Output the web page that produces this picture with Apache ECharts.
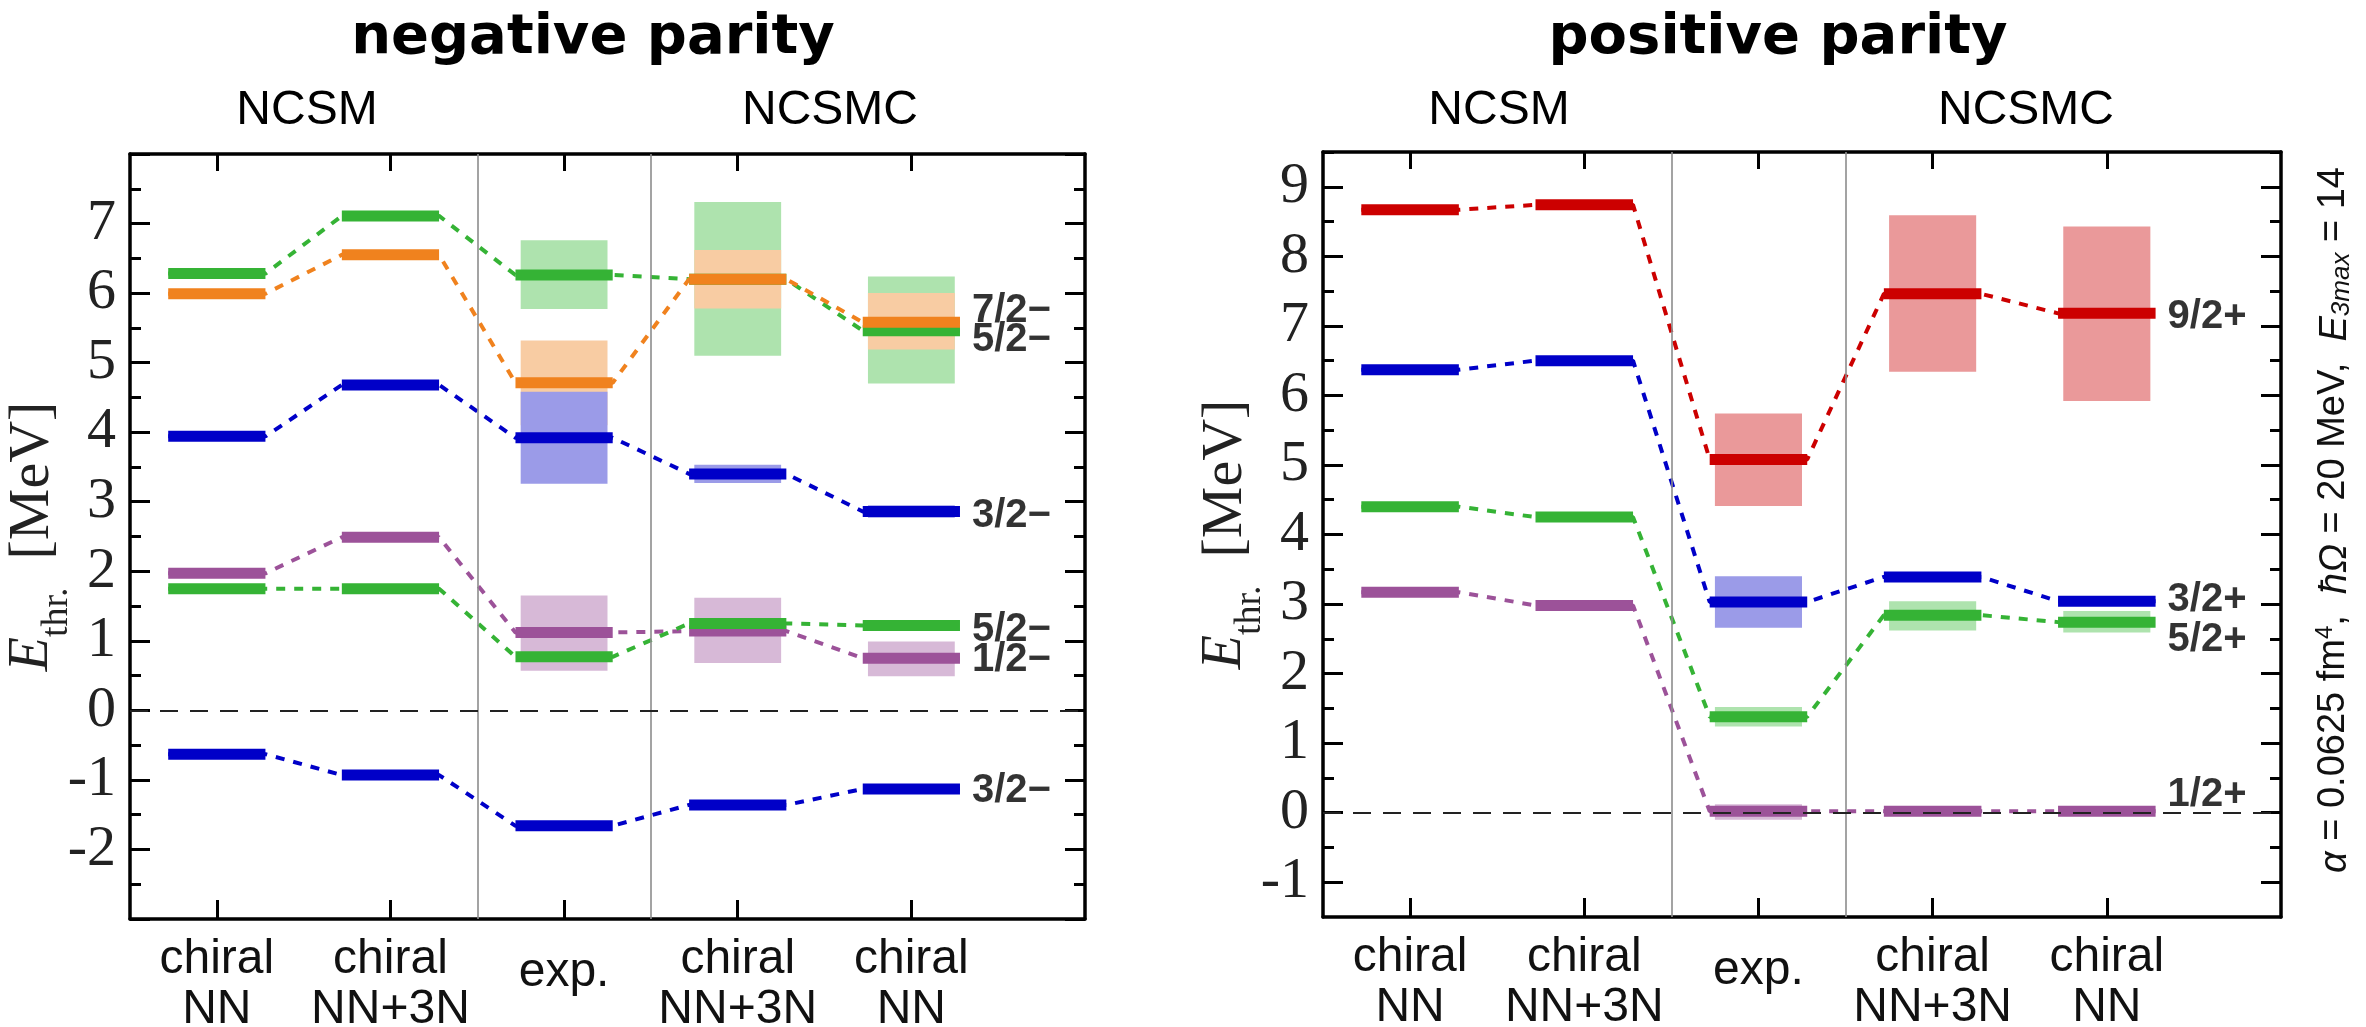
<!DOCTYPE html>
<html>
<head>
<meta charset="utf-8">
<title>threshold energies</title>
<script src="https://cdn.jsdelivr.net/npm/echarts@6/dist/echarts.min.js"></script>
<style>
html, body { margin: 0; padding: 0; background: #fff; }
#chart { width: 2366px; height: 1027px; }
</style>
</head>
<body>
<div id="chart"></div>
<script>
// columns on the x axis
var columns = ['chiral\nNN', 'chiral\nNN+3N', 'exp.', 'chiral\nNN+3N', 'chiral\nNN'];
var columnPos = [1, 2, 3, 4, 5];
var sectionBreaks = [2.5, 3.5];

// negative parity levels (MeV) and uncertainty boxes [low, high]
var neg52a = [6.28, 7.11, 6.26, 6.20, 5.46];
var neg52aBox = [null, null, [5.77, 6.76], [5.10, 7.31], [4.70, 6.24]];
var neg72 = [5.99, 6.55, 4.71, 6.20, 5.58];
var neg72Box = [null, null, [4.10, 5.32], [5.78, 6.62], [5.19, 6.00]];
var neg32a = [3.94, 4.68, 3.92, 3.40, 2.86];
var neg32aBox = [null, null, [3.26, 4.58], [3.27, 3.53], [2.77, 2.95]];
var neg12 = [1.97, 2.49, 1.12, 1.14, 0.75];
var neg12Box = [null, null, [0.57, 1.65], [0.68, 1.62], [0.49, 0.99]];
var neg52b = [1.75, 1.75, 0.77, 1.25, 1.22];
var neg32b = [-0.63, -0.93, -1.66, -1.36, -1.13];
var negLabels = ['7/2−', '5/2−', '3/2−', '5/2−', '1/2−', '3/2−'];
var negLabelY = [5.74, 5.32, 2.79, 1.16, 0.73, -1.16];
var negTicks = [-3, -2, -1, 0, 1, 2, 3, 4, 5, 6, 7, 8];
var negTickLabels = [-2, -1, 0, 1, 2, 3, 4, 5, 6, 7];
var negMinor = [-2.5, -1.5, -0.5, 0.5, 1.5, 2.5, 3.5, 4.5, 5.5, 6.5, 7.5];

// positive parity levels
var pos92 = [8.67, 8.74, 5.08, 7.46, 7.18];
var pos92Box = [null, null, [4.41, 5.74], [6.34, 8.59], [5.92, 8.43]];
var pos32 = [6.37, 6.50, 3.03, 3.39, 3.04];
var pos32Box = [null, null, [2.66, 3.40], [3.33, 3.45], [2.98, 3.10]];
var pos52 = [4.40, 4.25, 1.38, 2.84, 2.74];
var pos52Box = [null, null, [1.24, 1.52], [2.62, 3.04], [2.59, 2.90]];
var pos12 = [3.17, 2.98, 0.02, 0.02, 0.02];
var pos12Box = [null, null, [-0.10, 0.12], null, null];
var posLabels = ['9/2+', '3/2+', '5/2+', '1/2+'];
var posLabelY = [7.13, 3.06, 2.48, 0.25];
var posTicks = [-1, 0, 1, 2, 3, 4, 5, 6, 7, 8, 9];
var posTickLabels = [-1, 0, 1, 2, 3, 4, 5, 6, 7, 8, 9];
var posMinor = [-0.5, 0.5, 1.5, 2.5, 3.5, 4.5, 5.5, 6.5, 7.5, 8.5, 9.5];

// line colour, box colour
var colors = {
    blue: ['#0000c8', '#9b9be8'],
    green: ['#35b335', '#aee3ae'],
    orange: ['#f0821e', '#f8cca3'],
    purple: ['#9c5299', '#d7b9d7'],
    red: ['#cc0000', '#ea999a']
};

var BAR_HW = 0.28;  // half width of a level bar
var BOX_HW = 0.25;  // half width of an uncertainty box
var BAR_PX = 11;

var serif = 'Liberation Serif';
var sans = 'Liberation Sans';

function boxRenderer(fill) {
    return function (params, api) {
        var a = api.coord([api.value(0) - BOX_HW, api.value(2)]);
        var b = api.coord([api.value(0) + BOX_HW, api.value(1)]);
        return {
            type: 'rect',
            shape: { x: a[0], y: a[1], width: b[0] - a[0], height: b[1] - a[1] },
            style: { fill: fill }
        };
    };
}

function barRenderer(fill) {
    return function (params, api) {
        var a = api.coord([api.value(0) - BAR_HW, api.value(1)]);
        var b = api.coord([api.value(0) + BAR_HW, api.value(1)]);
        return {
            type: 'rect',
            shape: { x: a[0], y: a[1] - BAR_PX / 2, width: b[0] - a[0], height: BAR_PX },
            style: { fill: fill }
        };
    };
}

function panelSeries(g, groups, labels, labelY) {
    var xi = 2 * g, yi = 4 * g;
    var list = [];

    // separators and zero line
    var marks = sectionBreaks.map(function (b) {
        return { xAxis: b, lineStyle: { color: '#8c8c8c', width: 1.6, type: 'solid' } };
    });
    marks.push({ yAxis: 0, lineStyle: { color: '#222', width: 2.2, type: [18, 12] } });
    list.push({
        type: 'line', xAxisIndex: xi, yAxisIndex: yi, data: [[columnPos[0], 0]],
        showSymbol: false, symbol: 'none', lineStyle: { opacity: 0 }, silent: true, z: 0,
        markLine: { symbol: ['none', 'none'], silent: true, animation: false, label: { show: false }, data: marks }
    });

    // uncertainty boxes
    groups.forEach(function (gr) {
        if (!gr.box) return;
        var d = [];
        gr.box.forEach(function (b, i) {
            if (b) d.push([columnPos[i], b[0], b[1]]);
        });
        list.push({
            type: 'custom', xAxisIndex: xi, yAxisIndex: yi, z: 1, silent: true,
            renderItem: boxRenderer(gr.color[1]), data: d
        });
    });

    // dotted connectors
    groups.forEach(function (gr) {
        var d = [];
        gr.vals.forEach(function (v, i) {
            d.push([columnPos[i] - BAR_HW, v]);
            d.push([columnPos[i] + BAR_HW, v]);
        });
        list.push({
            type: 'line', xAxisIndex: xi, yAxisIndex: yi, z: 2, silent: true,
            showSymbol: false, symbol: 'none', data: d,
            lineStyle: { color: gr.color[0], width: 4, type: [9, 9] }
        });
    });

    // level bars
    groups.forEach(function (gr) {
        list.push({
            type: 'custom', xAxisIndex: xi, yAxisIndex: yi, z: 3, silent: true,
            renderItem: barRenderer(gr.color[0]),
            data: gr.vals.map(function (v, i) { return [columnPos[i], v]; })
        });
    });

    // J^pi labels right of the last column
    var last = columnPos[columnPos.length - 1];
    list.push({
        type: 'scatter', xAxisIndex: xi, yAxisIndex: yi, z: 4, silent: true, symbolSize: 0,
        data: labelY.map(function (y, i) { return [last + BAR_HW, y, labels[i]]; }),
        label: {
            show: true, position: 'right', distance: 12,
            formatter: function (p) { return p.value[2]; },
            fontFamily: sans, fontWeight: 'bold', fontSize: 40, color: '#000'
        }
    });
    return list;
}

function xAxes(g) {
    var line = { onZero: false, lineStyle: { color: '#000', width: 3.5 } };
    return [{
        gridIndex: g, type: 'value', min: 0.5, max: 6, position: 'bottom',
        axisLine: line,
        axisTick: { inside: true, length: 19, lineStyle: { color: '#000', width: 3 }, customValues: columnPos },
        axisLabel: {
            customValues: columnPos, margin: 16, color: '#111',
            fontFamily: sans, fontSize: 48, lineHeight: 50,
            formatter: function (v) {
                var c = columns[columnPos.indexOf(v)];
                return c.indexOf('\n') < 0 ? '{m|' + c + '}' : c;
            },
            rich: { m: { fontFamily: sans, fontSize: 48, lineHeight: 50, padding: [25, 0, 0, 0], color: '#111' } }
        },
        splitLine: { show: false }
    }, {
        gridIndex: g, type: 'value', min: 0.5, max: 6, position: 'top',
        axisLine: line,
        axisTick: { inside: true, length: 17, lineStyle: { color: '#000', width: 3 }, customValues: columnPos },
        axisLabel: { show: false },
        splitLine: { show: false }
    }];
}

function yAxes(g, min, max, ticks, tickLabels, minor) {
    var line = { onZero: false, lineStyle: { color: '#000', width: 3.5 } };
    var base = { gridIndex: g, type: 'value', min: min, max: max, splitLine: { show: false } };
    var major = { inside: true, length: 20, lineStyle: { color: '#000', width: 3 }, customValues: ticks };
    var small = { inside: true, length: 11, lineStyle: { color: '#000', width: 3 }, customValues: minor };
    return [
        Object.assign({}, base, {
            position: 'left', axisLine: line, axisTick: major,
            axisLabel: { customValues: tickLabels, margin: 14, fontFamily: serif, fontSize: 58, color: '#222' },
            name: '{e|E}{s|thr.} {u|[MeV]}', nameLocation: 'middle', nameGap: 54, nameRotate: 90,
            nameMoveOverlap: false,
            nameTextStyle: {
                color: '#222', fontFamily: serif, fontSize: 56,
                rich: {
                    e: { fontFamily: serif, fontStyle: 'italic', fontSize: 56, color: '#222', verticalAlign: 'bottom', padding: [0, 0, 16, 0] },
                    s: { fontFamily: serif, fontSize: 38, color: '#222', verticalAlign: 'bottom', padding: [0, 14, 0, 0] },
                    u: { fontFamily: serif, fontSize: 58, color: '#222', verticalAlign: 'bottom', padding: [0, 0, 14, 0] }
                }
            }
        }),
        Object.assign({}, base, { position: 'left', axisLine: { show: false }, axisTick: small, axisLabel: { show: false } }),
        Object.assign({}, base, { position: 'right', axisLine: line, axisTick: major, axisLabel: { show: false } }),
        Object.assign({}, base, { position: 'right', axisLine: { show: false }, axisTick: small, axisLabel: { show: false } })
    ];
}

var negGroups = [
    { vals: neg52a, box: neg52aBox, color: colors.green },
    { vals: neg72, box: neg72Box, color: colors.orange },
    { vals: neg32a, box: neg32aBox, color: colors.blue },
    { vals: neg12, box: neg12Box, color: colors.purple },
    { vals: neg52b, box: null, color: colors.green },
    { vals: neg32b, box: null, color: colors.blue }
];
var posGroups = [
    { vals: pos92, box: pos92Box, color: colors.red },
    { vals: pos32, box: pos32Box, color: colors.blue },
    { vals: pos52, box: pos52Box, color: colors.green },
    { vals: pos12, box: pos12Box, color: colors.purple }
];

function headText(x, y, text, size, bold, family) {
    return {
        type: 'text', x: x, y: y, silent: true,
        style: {
            text: text, fontFamily: family, fontSize: size, fontWeight: bold ? 'bold' : 'normal',
            fill: '#000', align: 'center', verticalAlign: 'middle'
        }
    };
}

var myChart = echarts.init(document.getElementById('chart'));

var option = {
    animation: false,
    backgroundColor: '#fff',
    grid: [
        { left: 130, top: 154, width: 955, height: 765, outerBoundsMode: 'none' },
        { left: 1323, top: 152, width: 958, height: 765, outerBoundsMode: 'none' }
    ],
    xAxis: xAxes(0).concat(xAxes(1)),
    yAxis: yAxes(0, -3, 8, negTicks, negTickLabels, negMinor)
        .concat(yAxes(1, -1.5, 9.5, posTicks, posTickLabels, posMinor)),
    series: panelSeries(0, negGroups, negLabels, negLabelY)
        .concat(panelSeries(1, posGroups, posLabels, posLabelY)),
    graphic: [
        headText(593, 38, 'negative parity', 56, true, 'DejaVu Sans'),
        headText(1778, 38, 'positive parity', 56, true, 'DejaVu Sans'),
        headText(307, 111, 'NCSM', 48, false, sans),
        headText(830, 111, 'NCSMC', 48, false, sans),
        headText(1499, 111, 'NCSM', 48, false, sans),
        headText(2026, 111, 'NCSMC', 48, false, sans),
        {
            type: 'text', x: 2334, y: 520, rotation: Math.PI / 2, silent: true,
            style: {
                text: '{i|α} = 0.0625 fm{sup|4},  {i|ħΩ} = 20 MeV,  {i|E}{sub|3max} = 14',
                fontFamily: sans, fontSize: 38, fill: '#111', align: 'center', verticalAlign: 'middle',
                rich: {
                    i: { fontFamily: sans, fontSize: 38, fontStyle: 'italic', fill: '#111', verticalAlign: 'bottom' },
                    sup: { fontFamily: sans, fontSize: 24, fill: '#111', verticalAlign: 'bottom', padding: [0, 0, 17, 0] },
                    sub: { fontFamily: sans, fontSize: 26, fontStyle: 'italic', fill: '#111', verticalAlign: 'bottom' }
                }
            }
        }
    ]
};

myChart.setOption(option);

window.addEventListener('resize', function () {
    myChart.resize();
});
</script>
</body>
</html>
